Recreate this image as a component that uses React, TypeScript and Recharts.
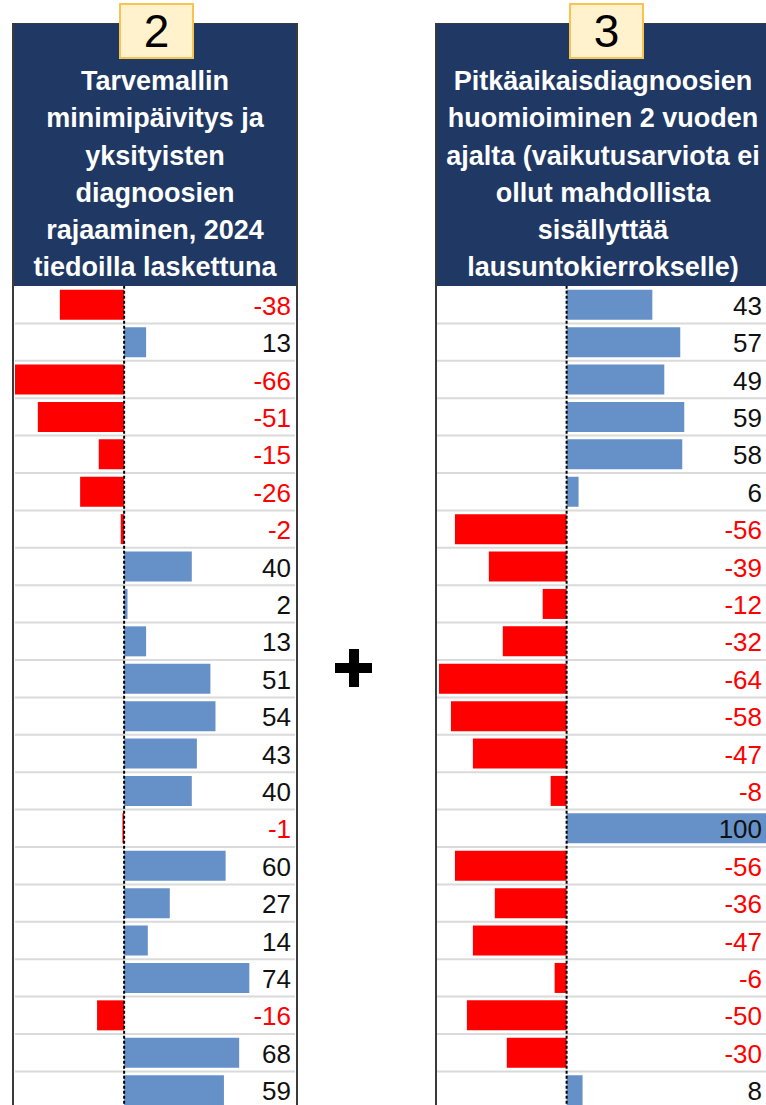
import React from 'react';
import { BarChart, Bar, XAxis, YAxis, Cell, LabelList, ReferenceLine, CartesianGrid } from 'recharts';

// row ids (rows have no visible names in the source table)
const rows = ['1', '2', '3', '4', '5', '6', '7', '8', '9', '10', '11', '12', '13', '14', '15', '16', '17', '18', '19', '20', '21', '22'];

// model change 2: minimum update of need model
const leftValues = [-38, 13, -66, -51, -15, -26, -2, 40, 2, 13, 51, 54, 43, 40, -1, 60, 27, 14, 74, -16, 68, 59];
// model change 3: long-term diagnoses over 2 years
const rightValues = [43, 57, 49, 59, 58, 6, -56, -39, -12, -32, -64, -58, -47, -8, 100, -56, -36, -47, -6, -50, -30, 8];

const leftTitle = ['Tarvemallin', 'minimipäivitys ja', 'yksityisten', 'diagnoosien', 'rajaaminen, 2024', 'tiedoilla laskettuna'];
const rightTitle = ['Pitkäaikaisdiagnoosien', 'huomioiminen 2 vuoden', 'ajalta (vaikutusarviota ei', 'ollut mahdollista', 'sisällyttää', 'lausuntokierrokselle)'];

const FONT = '"Liberation Sans", Arial, sans-serif';
const NAVY = '#1F3864';
const BLUE = '#6590C8';
const RED = '#FF0000';
const ROW_H = 37.4;
const TOP = 286;

interface PanelProps {
  badge: string;
  title: string[];
  values: number[];
  domain: [number, number];
  left: number; // panel left border x
  width: number; // panel outer width
  chartLeft: number;
  chartWidth: number;
  labelRight: number; // relative to chart
  badgeLeft: number;
}

const Panel: React.FC<PanelProps> = ({ badge, title, values, domain, left, width, chartLeft, chartWidth, labelRight, badgeLeft }) => {
  const data = rows.map((r, i) => ({ row: r, value: values[i] }));
  const height = rows.length * ROW_H;

  const renderLabel = (props: any) => {
    const { y, height: h, value } = props;
    return (
      <text
        x={labelRight}
        y={Number(y) + Number(h) / 2 + 1}
        textAnchor="end"
        dominantBaseline="central"
        fontSize={26}
        fontFamily={FONT}
        fill={value < 0 ? RED : '#111'}
      >
        {value}
      </text>
    );
  };

  return (
    <>
      <div
        style={{
          position: 'absolute',
          left,
          top: 23,
          width,
          height: 1120,
          boxSizing: 'border-box',
          borderLeft: '2px solid #3a3a3a',
          borderRight: '2px solid #3a3a3a',
          borderTop: '1px solid #3a3a3a',
          background: '#fff',
        }}
      >
        <div
          style={{
            height: 262,
            background: NAVY,
            color: '#fff',
            fontFamily: FONT,
            fontWeight: 'bold',
            fontSize: 27,
            lineHeight: '37.3px',
            textAlign: 'center',
            paddingTop: 39,
            boxSizing: 'border-box',
            whiteSpace: 'nowrap',
          }}
        >
          {title.map((t) => (
            <div key={t}>{t}</div>
          ))}
        </div>
      </div>
      <div
        style={{
          position: 'absolute',
          left: badgeLeft,
          top: 3,
          width: 75,
          height: 56,
          boxSizing: 'border-box',
          background: '#FFF2CC',
          border: '2px solid #F7C452',
          fontFamily: FONT,
          fontSize: 46,
          lineHeight: '52px',
          textAlign: 'center',
          color: '#000',
        }}
      >
        {badge}
      </div>
      <div style={{ position: 'absolute', left: chartLeft, top: TOP }}>
        <BarChart
          width={chartWidth}
          height={height}
          data={data}
          layout="vertical"
          barCategoryGap="10%"
          margin={{ top: 0, right: 0, bottom: 0, left: 0 }}
        >
          <CartesianGrid
            vertical={false}
            stroke="#DADADA"
            strokeWidth={2}
            horizontalCoordinatesGenerator={({ offset }: any) =>
              rows.map((_, i) => offset.top + (i + 1) * (offset.height / rows.length))
            }
          />
          <XAxis type="number" domain={domain} allowDataOverflow hide />
          <YAxis type="category" dataKey="row" hide />
          <Bar dataKey="value" isAnimationActive={false}>
            {data.map((d) => (
              <Cell key={d.row} fill={d.value < 0 ? RED : BLUE} />
            ))}
            <LabelList dataKey="value" content={renderLabel} />
          </Bar>
          <ReferenceLine x={0} stroke="#000" strokeWidth={2} strokeDasharray="3 2" />
        </BarChart>
      </div>
    </>
  );
};

const App: React.FC = () => {
  return (
    <div
      style={{
        position: 'fixed',
        left: 0,
        top: 0,
        width: 766,
        height: 1105,
        overflow: 'hidden',
        background: '#fff',
      }}
    >
      <Panel
        badge="2"
        title={leftTitle}
        values={leftValues}
        domain={[-64.5, 101]}
        left={12}
        width={286}
        chartLeft={15}
        chartWidth={280}
        labelRight={276}
        badgeLeft={119}
      />
      <Panel
        badge="3"
        title={rightTitle}
        values={rightValues}
        domain={[-65, 100]}
        left={435}
        width={336}
        chartLeft={437}
        chartWidth={329}
        labelRight={325}
        badgeLeft={569}
      />
      {/* plus sign between the two panels */}
      <div style={{ position: 'absolute', left: 335, top: 663, width: 37, height: 10, background: '#000' }} />
      <div style={{ position: 'absolute', left: 349, top: 649, width: 10, height: 38, background: '#000' }} />
    </div>
  );
};

export default App;
